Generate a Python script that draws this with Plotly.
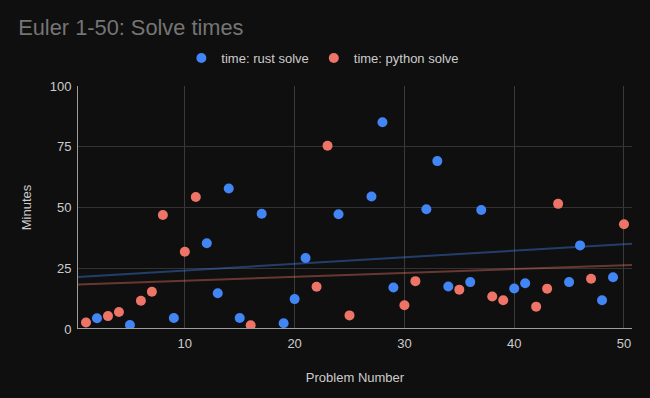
import numpy as np
import plotly.graph_objects as go

rust_x = [2, 5, 9, 12, 13, 14, 15, 17, 19, 20, 21, 24, 27, 28, 29, 32, 33, 34, 36, 37, 40, 41, 45, 46, 48, 49]
rust_y = [4.4, 1.6, 4.5, 35.3, 14.7, 57.8, 4.5, 47.4, 2.4, 12.3, 29.2, 47.2, 54.5, 85.1, 17.1, 49.3, 69.1, 17.5, 19.3, 49.0, 16.7, 18.8, 19.3, 34.4, 11.8, 21.3]
py_x = [1, 3, 4, 6, 7, 8, 10, 11, 16, 22, 23, 25, 30, 31, 35, 38, 39, 42, 43, 44, 47, 50]
py_y = [2.7, 5.3, 7.0, 11.6, 15.3, 46.9, 31.8, 54.3, 1.5, 17.4, 75.4, 5.6, 9.8, 19.7, 16.2, 13.4, 11.8, 9.2, 16.6, 51.5, 20.7, 43.1]

x_range = [0.27, 50.73]
y_ticks = [0, 25, 50, 75, 100]
x_ticks = [10, 20, 30, 40, 50]

BLUE = "#4285F4"
RED = "#EE7468"
BG = "#0f0f0f"
FONT = "Liberation Sans, Arial, sans-serif"

def trend(xs, ys):
    m, b = np.polyfit(xs, ys, 1)
    xx = np.array(x_range)
    return xx, m * xx + b

fig = go.Figure()
tx, ty = trend(rust_x, rust_y)
fig.add_trace(go.Scatter(x=tx, y=ty, mode="lines", line=dict(color=BLUE, width=2),
                         opacity=0.4, showlegend=False, hoverinfo="skip"))
tx, ty = trend(py_x, py_y)
fig.add_trace(go.Scatter(x=tx, y=ty, mode="lines", line=dict(color=RED, width=2),
                         opacity=0.4, showlegend=False, hoverinfo="skip"))
fig.add_trace(go.Scatter(x=rust_x, y=rust_y, mode="markers", name="time: rust solve",
                         marker=dict(color=BLUE, size=10)))
fig.add_trace(go.Scatter(x=py_x, y=py_y, mode="markers", name="time: python solve",
                         marker=dict(color=RED, size=10)))

fig.update_layout(
    width=650, height=398,
    paper_bgcolor=BG, plot_bgcolor=BG,
    margin=dict(l=78, r=18, t=86, b=69),
    font=dict(family=FONT, color="#cccccc", size=13),
    title=dict(text="Euler 1-50: Solve times", x=0.028, xanchor="left", y=0.93, yanchor="middle",
               font=dict(size=21.8, color="#757575", family=FONT)),
    legend=dict(orientation="h", x=0.442, xanchor="center", y=1.115, yanchor="middle",
                font=dict(size=13, color="#cccccc"), bgcolor="rgba(0,0,0,0)",
                itemwidth=30),
    xaxis=dict(range=x_range, tickvals=x_ticks, showgrid=True, gridcolor="#3a3a3a", gridwidth=1,
               zeroline=False, showline=False, ticks="", tickfont=dict(color="#cccccc", size=13),
               ticklabelstandoff=5,
               title=dict(text="Problem Number", font=dict(size=13, color="#cccccc"), standoff=22)),
    yaxis=dict(range=[0, 100], tickvals=y_ticks, showgrid=True, gridcolor="#333333", gridwidth=1,
               zeroline=False, showline=True, linecolor="#9e9e9e", linewidth=1, ticks="",
               tickfont=dict(color="#cccccc", size=13), ticklabelstandoff=3,
               title=dict(text="Minutes", font=dict(size=13, color="#cccccc"), standoff=15)),
    showlegend=True,
)
fig.add_shape(type="line", xref="paper", yref="y", x0=0, x1=1, y0=0, y1=0,
              line=dict(color="#9e9e9e", width=2), layer="above")

fig.write_html("out.html", config={"displayModeBar": False},
               post_script="document.body.style.margin='0';document.body.style.background='#0f0f0f';")
